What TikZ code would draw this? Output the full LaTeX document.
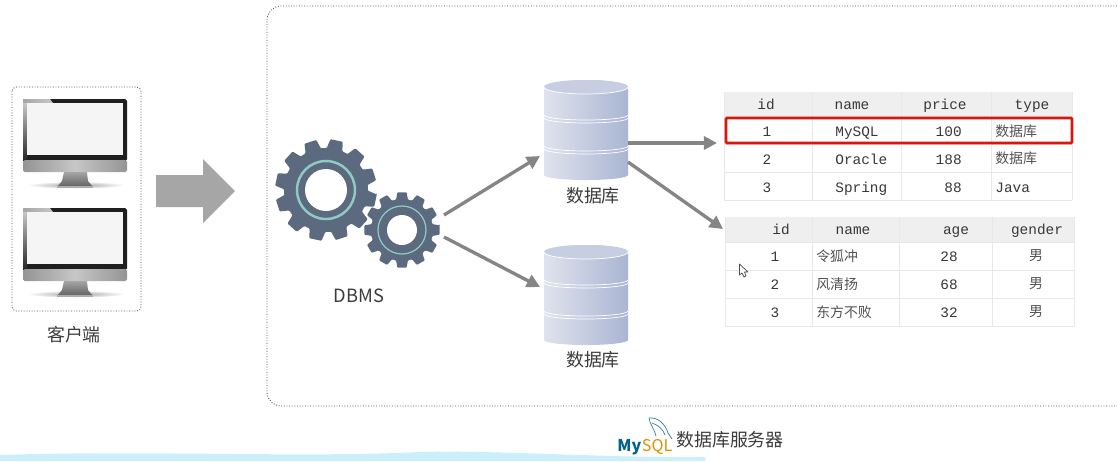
\documentclass[tikz,border=0pt]{standalone}
\usepackage{fontspec}
\setmainfont{Noto Sans CJK SC}
\setmonofont{Liberation Mono}
\usepackage{xcolor}
\definecolor{gearslate}{HTML}{5B6A7E}
\definecolor{gearring}{HTML}{8FCBC4}
\definecolor{arrowgray}{HTML}{858585}
\definecolor{bigarrow}{HTML}{A6A6A6}
\definecolor{dbleft}{HTML}{E0E3EE}
\definecolor{dbright}{HTML}{A9B5D2}
\definecolor{headgray}{HTML}{EFEFEF}
\definecolor{gridgray}{HTML}{E8E8E8}
\definecolor{labelgray}{HTML}{3C3C3C}
\definecolor{redrow}{HTML}{D8160C}
\definecolor{mysqlblue}{HTML}{00618A}
\definecolor{mysqlorange}{HTML}{E48E00}
\usetikzlibrary{arrows.meta}
\tikzset{
	frame/.style={draw=black!70, densely dotted, line width=0.5pt},
	flow/.style={draw=arrowgray, line width=1.9pt, -{Triangle[length=7.5pt,width=7.5pt]}},
	caption/.style={font=\fontsize{10.2}{12}\selectfont, text=labelgray, inner sep=0pt},
	cellmono/.style={font=\ttfamily\fontsize{8.2}{10}\selectfont, text=black!78, inner sep=0pt, text height=6pt, text depth=1.5pt, yshift=-0.7pt},
	cellcjk/.style={font=\fontsize{7.9}{10}\selectfont, text=black!68, inner sep=0pt},
	monitor/.pic={
		\fill[black!88, rounded corners=1pt] (23,99) rectangle (127,161);
		\shade[left color=black!35, right color=black!22] (23,99) -- (50,99) -- (53,103) -- (23,103) -- cycle;
		\shade[top color=black!22, bottom color=black!85] (23,103) rectangle (27,160);
		\fill[black!4] (27,103) rectangle (123,155);
		\shade[left color=black!42, right color=black!42, middle color=black!22, rounded corners=1pt] (23,160) rectangle (127,172);
		\shade[inner color=black!38, outer color=white] (76,185) ellipse (49 and 3.5);
		\shade[top color=black!35, bottom color=black!62] (64,172) -- (87,172) -- (88,181) -- (93,187) -- (57,187) -- (62,181) -- cycle;
		\fill[black!32] (57,186) rectangle (93,187.5);
	},
	dbstack/.pic={
		\shade[left color=dbleft, right color=dbright] (-42,-43) arc[start angle=180, end angle=0, x radius=42, y radius=-7] -- (42,45) arc[start angle=0, end angle=180, x radius=42, y radius=5] -- cycle;
		\fill[dbleft!55!dbright] (0,-43) ellipse (42 and 7);
		\draw[white, line width=0.4pt] (-42,-43) arc[start angle=180, end angle=0, x radius=42, y radius=7];
		\foreach \y in {-15,-12,16,19} {
			\draw[white, line width=0.4pt] (-42,\y) arc[start angle=180, end angle=0, x radius=42, y radius=5];
		}
	},
}
\begin{document}
\begin{tikzpicture}[x=0.02cm, y=-0.02cm]
	\useasboundingbox (0,0) rectangle (1117,461);
	\fill[white] (0,0) rectangle (1117,461);

	% client side
	\draw[frame, rounded corners=2.5pt] (12,87) rectangle (141,311);
	\pic at (0,0) {monitor};
	\pic at (0,109) {monitor};
	\node[caption] (client) at (74,335) {客户端};
	\fill[bigarrow] (156,175) -- (203,175) -- (203,159) -- (235,191) -- (203,223) -- (203,207) -- (156,207) -- cycle;

	% server frame
	\draw[frame, rounded corners=8pt] (1130,6) -- (267,6) -- (267,406) -- (1130,406);

	% gears
	\foreach \cx/\cy/\ro/\rr/\rh/\rg/\off/\lw in {326/190/51/42/21/29/12/1.4, 402/230/38/31/15/24/0/0.7} {
		\begin{scope}[shift={(\cx,\cy)}]
			\fill[gearslate, rounded corners=0.5pt] (\off-7:\ro)
				\foreach \t in {0,1,...,11} {
					-- ({\off+30*\t-7}:\ro) -- ({\off+30*\t+7}:\ro) -- ({\off+30*\t+11}:\rr) -- ({\off+30*\t+19}:\rr)
				} -- cycle;
			\fill[white] (0,0) circle (\rh);
			\draw[gearring, line width=\lw pt] (0,0) circle (\rg);
		\end{scope}
	}
	\node[caption, font=\fontsize{10.4}{12}\selectfont] (dbms) at (359,296) {DBMS};

	% databases
	\node[minimum width=1.68cm, minimum height=2cm, inner sep=0pt] (dba) at (586,130) {};
	\node[minimum width=1.68cm, minimum height=2cm, inner sep=0pt] (dbb) at (586,295) {};
	\pic at (dba) {dbstack};
	\pic at (dbb) {dbstack};
	\node[caption] (dbalabel) at (593,196) {数据库};
	\node[caption] (dbblabel) at (593,360) {数据库};

	% connectors
	\coordinate (gearup) at (444,215);
	\coordinate (geardown) at (444,237);
	\coordinate (dbain) at (540,156);
	\coordinate (dbbin) at (540,287);
	\coordinate (dbaright) at (628,143);
	\coordinate (dbaside) at (628,162);
	\coordinate (prodin) at (717,143);
	\coordinate (userin) at (723,229);
	\draw[flow] (gearup) -- (dbain);
	\draw[flow] (geardown) -- (dbbin);
	\draw[flow, line width=2.4pt] (dbaright) -- (prodin);
	\draw[flow] (dbaside) -- (userin);

	% product table
	\fill[headgray] (724,92) rectangle (1072,116);
	\foreach \y in {116,144,172,200} {
		\draw[gridgray, line width=0.5pt] (724,\y) -- (1072,\y);
	}
	\foreach \x in {724,812,901,991,1072} {
		\draw[gridgray, line width=0.5pt] (\x,92) -- (\x,200);
	}
	\foreach \x/\txt [count=\i] in {766/id,852/name,945/price,1032/type} {
		\node[cellmono] (prodhead\i) at (\x,104) {\txt};
	}
	\foreach \y/\n/\nm/\pr [count=\i] in {131/1/MySQL/100,159/2/Oracle/188,187/3/Spring/88} {
		\node[cellmono] (prodid\i) at (767,\y) {\n};
		\node[cellmono, anchor=west] (prodname\i) at (835,\y) {\nm};
		\node[cellmono, anchor=east] (prodprice\i) at (962,\y) {\pr};
	}
	\node[cellcjk, anchor=west] (prodtype1) at (995,131) {数据库};
	\node[cellcjk, anchor=west] (prodtype2) at (995,158) {数据库};
	\node[cellmono, anchor=west] (prodtype3) at (995,187) {Java};
	\draw[redrow, line width=1.5pt, rounded corners=0.5pt] (726,118) rectangle (1072,143);

	% user table
	\fill[headgray] (725,217) rectangle (1074,242);
	\foreach \y in {242,270,298,326} {
		\draw[gridgray, line width=0.5pt] (725,\y) -- (1074,\y);
	}
	\foreach \x in {725,812,899,992,1074} {
		\draw[gridgray, line width=0.5pt] (\x,217) -- (\x,326);
	}
	\foreach \x/\txt [count=\i] in {781/id,853/name,956/age,1037/gender} {
		\node[cellmono] (userhead\i) at (\x,229) {\txt};
	}
	\foreach \y/\n/\nm/\ag [count=\i] in {256/1/令狐冲/28,284/2/风清扬/68,312/3/东方不败/32} {
		\node[cellmono] (userid\i) at (775,\y) {\n};
		\node[cellcjk, anchor=west] (username\i) at (816,\y) {\nm};
		\node[cellmono] (userage\i) at (949,\y) {\ag};
		\node[cellcjk] (usersex\i) at (1036,\y) {男};
	}

	% pointer
	\draw[black!70, fill=white, line width=0.4pt, line join=round] (739.5,264) -- (739.5,275) -- (742,273) -- (744,277) -- (746,276) -- (744.5,272) -- (748,272) -- cycle;

	% bottom strip and logo
	\fill[cyan!20!white] (0,455) .. controls (150,450) and (300,458) .. (420,452) .. controls (500,450) and (600,458) .. (705,457) -- (705,461) -- (0,461) -- cycle;
	\node[inner sep=0pt, anchor=base west, font=\bfseries\fontsize{9.2}{11}\selectfont, text=mysqlblue] (mysqlmy) at (617,451) {My};
	\node[inner sep=0pt, anchor=base west, font=\fontsize{9.2}{11}\selectfont, text=mysqlorange] (mysqlsql) at (mysqlmy.base east) {SQL};
	\draw[mysqlblue!80, line width=0.4pt] (649,418) .. controls (657,417) and (665,423) .. (668,433) -- (672,439);
	\draw[mysqlblue!80, line width=0.4pt] (649,418) .. controls (650,425) and (654,428) .. (656,436);
	\draw[mysqlblue!80, line width=0.4pt] (652,423) .. controls (658,425) and (663,429) .. (665,435);
	\node[caption] (servercap) at (730,440) {数据库服务器};
\end{tikzpicture}
\end{document}
